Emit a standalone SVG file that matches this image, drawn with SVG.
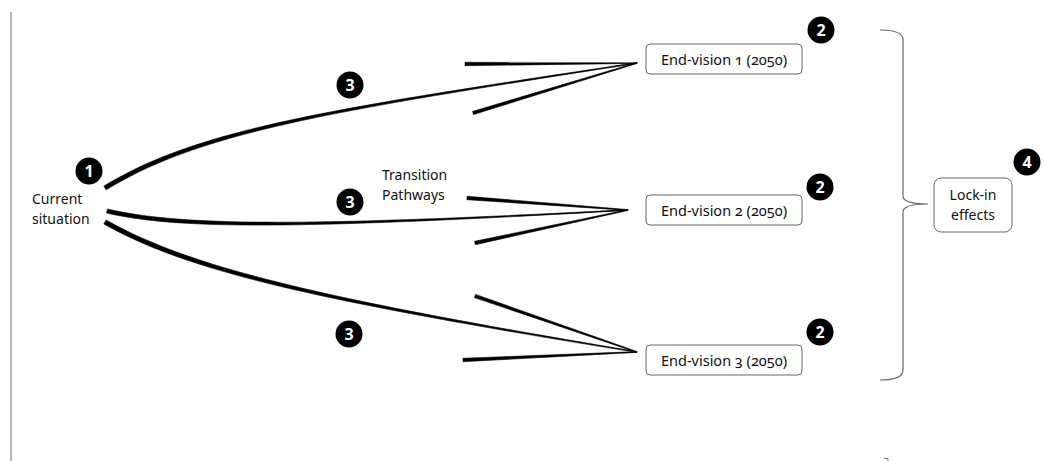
<svg xmlns="http://www.w3.org/2000/svg" width="1044" height="461" viewBox="0 0 1044 461">
  <style>
    .lbl { font-family: "Noto Sans", "Open Sans", sans-serif; font-size: 14px; fill: #111; }
    .box { fill: #fff; stroke: #666; stroke-width: 1; }
    .boxtxt { font-family: "Noto Sans", "Open Sans", sans-serif; font-size: 14.5px; fill: #111; text-anchor: middle; font-variant-numeric: oldstyle-nums; }
    .badge circle { fill: #000; }
    .badge text { font-family: "Noto Sans", "DejaVu Sans", sans-serif; font-weight: bold; font-size: 16px; fill: #fff; text-anchor: middle; }
    .stroke { fill: #000; stroke: #000; stroke-width: 0.6; stroke-linejoin: round; }
    .guide { fill: none; stroke: #8a8a8a; stroke-width: 1.3; }
    .brace { fill: none; stroke: #666; stroke-width: 1.2; }
  </style>

  <rect width="1044" height="461" fill="#fff"/>

  <!-- left margin rule -->
  <line class="guide" x1="11" y1="12" x2="11" y2="461"/>
  <path d="M884,458.5 L888,458.5 L888,461" fill="none" stroke="#777" stroke-width="1"/>

  <!-- start node -->
  <g id="current-situation">
    <text class="lbl" x="32" y="204">Current</text>
    <text class="lbl" x="32" y="224">situation</text>
  </g>

  <!-- transition pathways: tapered curves with open elongated heads -->
  <g id="connectors">
    <!-- pathway to end-vision 1 -->
    <path class="stroke" d="M103.9,186.1 C199,128.3 330,108.8 637,62.6 L637,63.4 C330,111.2 201,131.7 106.1,189.9 Z"/>
    <polygon class="stroke" points="465,62.3 637,62.6 637,63.4 465,65.7"/>
    <polygon class="stroke" points="472.5,111.4 637,62.6 637,63.4 473.5,114.6"/>

    <!-- pathway to end-vision 2 -->
    <path class="stroke" d="M107.5,209 C180.5,226 300,227 628,209.6 L628,210.4 C300,229 179.5,230 106.5,213 Z"/>
    <polygon class="stroke" points="467.1,196.3 628,209.6 628,210.4 466.9,199.7"/>
    <polygon class="stroke" points="474.6,241.3 628,209.6 628,210.4 475.4,244.7"/>

    <!-- pathway to end-vision 3 -->
    <path class="stroke" d="M106.1,220 C191,268 320.5,298.6 637,351.6 L637,352.4 C319.5,301.4 189,272 103.9,224 Z"/>
    <polygon class="stroke" points="475.6,294.4 637,351.6 637,352.4 474.4,297.6"/>
    <polygon class="stroke" points="462.9,358.3 637,351.6 637,352.4 463.1,361.7"/>
  </g>

  <g id="pathways-label">
    <text class="lbl" x="382" y="180">Transition</text>
    <text class="lbl" x="382" y="200">Pathways</text>
  </g>

  <!-- end-vision boxes -->
  <g id="end-vision-1">
    <rect class="box" x="646" y="44" width="156" height="30" rx="4"/>
    <text class="boxtxt" x="724" y="65">End-vision 1 (2050)</text>
  </g>
  <g id="end-vision-2">
    <rect class="box" x="646" y="195" width="156" height="30" rx="4"/>
    <text class="boxtxt" x="724" y="216">End-vision 2 (2050)</text>
  </g>
  <g id="end-vision-3">
    <rect class="box" x="646" y="345" width="156" height="30" rx="4"/>
    <text class="boxtxt" x="724" y="366">End-vision 3 (2050)</text>
  </g>

  <!-- brace grouping the end-visions -->
  <g id="brace">
    <path class="brace" d="M880,30 Q903,30 903,40 L903,196 Q903,204 928,204 Q903,204 903,212 L903,370 Q903,380 880,380"/>
  </g>

  <g id="lock-in">
    <rect class="box" x="934" y="178" width="78" height="54" rx="7"/>
    <text class="lbl" x="973" y="200" text-anchor="middle">Lock-in</text>
    <text class="lbl" x="973" y="220" text-anchor="middle">effects</text>
  </g>

  <!-- numbered badges -->
  <g id="badge-1" class="badge"><circle cx="89" cy="171" r="13.5"/><text x="89" y="177">1</text></g>
  <g id="badge-3a" class="badge"><circle cx="350" cy="85" r="13.5"/><text x="350" y="91">3</text></g>
  <g id="badge-3b" class="badge"><circle cx="350" cy="202" r="13.5"/><text x="350" y="208">3</text></g>
  <g id="badge-3c" class="badge"><circle cx="349" cy="334" r="13.5"/><text x="349" y="340">3</text></g>
  <g id="badge-2a" class="badge"><circle cx="821" cy="30" r="13.5"/><text x="821" y="36">2</text></g>
  <g id="badge-2b" class="badge"><circle cx="820" cy="187" r="13.5"/><text x="820" y="193">2</text></g>
  <g id="badge-2c" class="badge"><circle cx="820" cy="332" r="13.5"/><text x="820" y="338">2</text></g>
  <g id="badge-4" class="badge"><circle cx="1027" cy="162" r="13.5"/><text x="1027" y="168">4</text></g>
</svg>
